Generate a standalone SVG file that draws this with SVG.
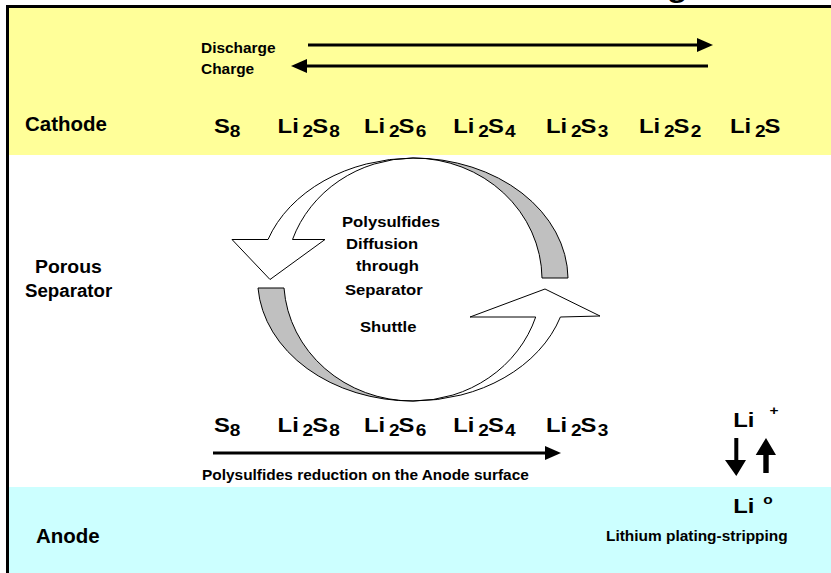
<svg xmlns="http://www.w3.org/2000/svg" width="831" height="573" viewBox="0 0 831 573">
<style>
text{font-family:"Liberation Sans",Arial,sans-serif;font-weight:bold;fill:#000}
.lbl{font-size:19.5px}
.sm{font-size:14.7px}
.mid{font-size:14px}
.f{font-size:20px}
.sub{font-size:16px}
.ln{stroke:#000;stroke-width:3;fill:none}
.ring{stroke:#000;stroke-width:1;stroke-linejoin:miter}
</style>
<defs>
<marker id="ah" markerUnits="userSpaceOnUse" markerWidth="17" markerHeight="15" refX="5" refY="7" orient="auto"><path d="M0,0 L16,7 L0,14 Z" fill="#000"/></marker>
</defs>
<rect width="831" height="573" fill="#fff"/>
<text style="font-size:28px" transform="matrix(1.19,0,0,1,667,-3)">g</text>

<g id="cathode">
<rect x="9" y="8" width="822" height="147" fill="#FFFF99"/>
<text class="lbl" transform="matrix(1.05,0,0,1,25,131)">Cathode</text>
<text class="sm" transform="matrix(1.05,0,0,1,201,53)">Discharge</text>
<text class="sm" transform="matrix(1.05,0,0,1,201,74)">Charge</text>
<g transform="translate(213.9,133) scale(1.19,1)"><text><tspan class="f" x="0" y="0">S</tspan><tspan class="sub" x="13.3" y="3.5">8</tspan></text></g>
<g transform="translate(277.6,133) scale(1.19,1)"><text><tspan class="f" x="0" y="0">Li</tspan><tspan class="sub" x="21" y="3.5">2</tspan><tspan class="f" x="29.1" y="0">S</tspan><tspan class="sub" x="43.4" y="3.5">8</tspan></text></g>
<g transform="translate(364,133) scale(1.19,1)"><text><tspan class="f" x="0" y="0">Li</tspan><tspan class="sub" x="21" y="3.5">2</tspan><tspan class="f" x="29.1" y="0">S</tspan><tspan class="sub" x="43.4" y="3.5">6</tspan></text></g>
<g transform="translate(453.3,133) scale(1.19,1)"><text><tspan class="f" x="0" y="0">Li</tspan><tspan class="sub" x="21" y="3.5">2</tspan><tspan class="f" x="29.1" y="0">S</tspan><tspan class="sub" x="43.4" y="3.5">4</tspan></text></g>
<g transform="translate(546,133) scale(1.19,1)"><text><tspan class="f" x="0" y="0">Li</tspan><tspan class="sub" x="21" y="3.5">2</tspan><tspan class="f" x="29.1" y="0">S</tspan><tspan class="sub" x="43.4" y="3.5">3</tspan></text></g>
<g transform="translate(639,133) scale(1.19,1)"><text><tspan class="f" x="0" y="0">Li</tspan><tspan class="sub" x="21" y="3.5">2</tspan><tspan class="f" x="29.1" y="0">S</tspan><tspan class="sub" x="43.4" y="3.5">2</tspan></text></g>
<g transform="translate(730,133) scale(1.19,1)"><text><tspan class="f" x="0" y="0">Li</tspan><tspan class="sub" x="21" y="3.5">2</tspan><tspan class="f" x="29.1" y="0">S</tspan></text></g>
</g>

<g id="separator">
<text class="lbl" style="font-size:18.5px" transform="matrix(1.05,0,0,1,35,273)">Porous</text>
<text class="lbl" style="font-size:17.8px" transform="matrix(1.05,0,0,1,25,297)">Separator</text>
</g>

<g id="shuttle">
<path class="ring" fill="#C0C0C0" d="M413,158 A155,121.5 0 0,1 568,278 L542,278 A129,121.5 0 0,0 413,158 Z"/>
<path class="ring" fill="#fff" d="M232,239.5 L268,239.5 A155,121.5 0 0,1 413,158 A129,121.5 0 0,0 292.5,239.5 L325,239.5 L270,279.5 Z"/>
<path class="ring" fill="#C0C0C0" d="M413,401 A155,121.5 0 0,1 258,288 L284,288 A129,121.5 0 0,0 413,401 Z"/>
<path class="ring" fill="#fff" d="M413,401 A155,121.5 0 0,0 560.4,317 L600,316 L545,289 L470,317 L535.7,317 A129,121.5 0 0,1 413,401 Z"/>
<text class="mid" transform="matrix(1.19,0,0,1,342,227)">Polysulfides</text>
<text class="mid" transform="matrix(1.19,0,0,1,346,249)">Diffusion</text>
<text class="mid" transform="matrix(1.19,0,0,1,356,271)">through</text>
<text class="mid" transform="matrix(1.19,0,0,1,345,295)">Separator</text>
<text class="mid" transform="matrix(1.19,0,0,1,360,332)">Shuttle</text>
</g>

<g id="anode-surface">
<g transform="translate(213.9,432) scale(1.19,1)"><text><tspan class="f" x="0" y="0">S</tspan><tspan class="sub" x="13.3" y="3.5">8</tspan></text></g>
<g transform="translate(277.6,432) scale(1.19,1)"><text><tspan class="f" x="0" y="0">Li</tspan><tspan class="sub" x="21" y="3.5">2</tspan><tspan class="f" x="29.1" y="0">S</tspan><tspan class="sub" x="43.4" y="3.5">8</tspan></text></g>
<g transform="translate(364,432) scale(1.19,1)"><text><tspan class="f" x="0" y="0">Li</tspan><tspan class="sub" x="21" y="3.5">2</tspan><tspan class="f" x="29.1" y="0">S</tspan><tspan class="sub" x="43.4" y="3.5">6</tspan></text></g>
<g transform="translate(453.3,432) scale(1.19,1)"><text><tspan class="f" x="0" y="0">Li</tspan><tspan class="sub" x="21" y="3.5">2</tspan><tspan class="f" x="29.1" y="0">S</tspan><tspan class="sub" x="43.4" y="3.5">4</tspan></text></g>
<g transform="translate(546,432) scale(1.19,1)"><text><tspan class="f" x="0" y="0">Li</tspan><tspan class="sub" x="21" y="3.5">2</tspan><tspan class="f" x="29.1" y="0">S</tspan><tspan class="sub" x="43.4" y="3.5">3</tspan></text></g>
<text class="sm" transform="matrix(1.05,0,0,1,202,480)">Polysulfides reduction on the Anode surface</text>
</g>

<g id="li-ion">
<text class="f" transform="matrix(1.19,0,0,1,733.3,427)">Li</text>
<text style="font-size:13px" transform="matrix(1.19,0,0,1,769.4,415)">+</text>
</g>

<g id="anode">
<rect x="9" y="487" width="822" height="86" fill="#CCFFFF"/>
<text class="lbl" transform="matrix(1.05,0,0,1,36,543)">Anode</text>
<text class="f" transform="matrix(1.19,0,0,1,733.3,513)">Li</text>
<text style="font-size:13px" transform="matrix(1.19,0,0,1,763.3,503.5)">o</text>
<text class="sm" transform="matrix(1.05,0,0,1,606,541)">Lithium plating-stripping</text>
</g>

<g id="connectors">
<line class="ln" x1="308" y1="45" x2="702" y2="45" marker-end="url(#ah)"/>
<line class="ln" x1="708" y1="66" x2="302" y2="66" marker-end="url(#ah)"/>
<line class="ln" x1="213" y1="453" x2="550" y2="453" marker-end="url(#ah)"/>
<path d="M734.3,438 H738.3 V460 H746 L736.3,476 L725,460 H734.3 Z" fill="#000"/>
<path d="M763.3,473 H768.7 V455 H776 L766,438 L755.7,455 H763.3 Z" fill="#000"/>
</g>

<path d="M7.5,573 V6.5 H831" stroke="#000" stroke-width="3" fill="none"/>
</svg>
